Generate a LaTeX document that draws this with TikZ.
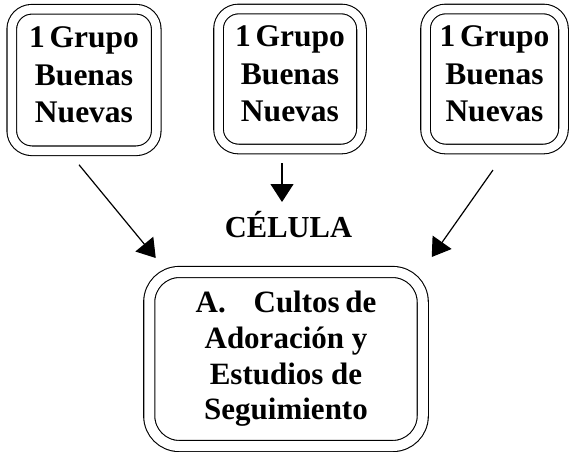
\documentclass[tikz,border=0pt]{standalone}
\usepackage{fontspec}
\setmainfont{Liberation Serif}
\usetikzlibrary{arrows.meta,calc}
\newcommand\mytightsp[1]{\spaceskip=#1em\relax}
\newcommand\mylowstrut{\rule[-10pt]{0pt}{10pt}}
\begin{document}
\begin{tikzpicture}[x=1pt,y=-1pt,
  gbox/.style={draw, double, double distance=8.5pt, line width=1.1pt, rounded corners=20pt,
    inner sep=0pt, outer sep=0pt, align=center,
    font=\fontsize{31.5}{37.5}\selectfont\bfseries},
  arr/.style={line width=1.2pt, -{Triangle[length=18pt,width=23pt]}}]
\useasboundingbox (0,0) rectangle (570,451);
\node[gbox, minimum width=144.5pt, minimum height=141.5pt] (g1) at (84,80) {\mytightsp{0.15}1 Grupo\\Buenas\\Nuevas\mylowstrut};
\node[gbox, minimum width=143pt, minimum height=140pt] (g2) at (290,79) {\mytightsp{0.15}1 Grupo\\Buenas\\Nuevas\mylowstrut};
\node[gbox, minimum width=138pt, minimum height=140pt] (g3) at (494.5,79) {\mytightsp{0.15}1 Grupo\\Buenas\\Nuevas\mylowstrut};
\node[gbox, rounded corners=30pt, double distance=10pt, minimum width=273.5pt, minimum height=174pt,
  font=\fontsize{31}{35.7}\selectfont\bfseries] (c) at (286,359)
  {\mytightsp{0.18}A.\hspace{0.9em}Cultos de\\Adoración y\\Estudios de\\Seguimiento};
\node[font=\fontsize{30.5}{36}\selectfont\bfseries, anchor=base, inner sep=0pt] (cel) at (288.5,237) {CÉLULA};
\draw[arr] ([shift={(-5,14)}]g1.south) -- ([shift={(6.5,-14)}]c.north west);
\draw[arr] ([shift={(-8,14)}]g2.south) -- ([shift={(-6.5,-35)}]cel.base);
\draw[arr] ([shift={(-1.5,21)}]g3.south) -- ([shift={(9,-15)}]c.north east);
\end{tikzpicture}
\end{document}
